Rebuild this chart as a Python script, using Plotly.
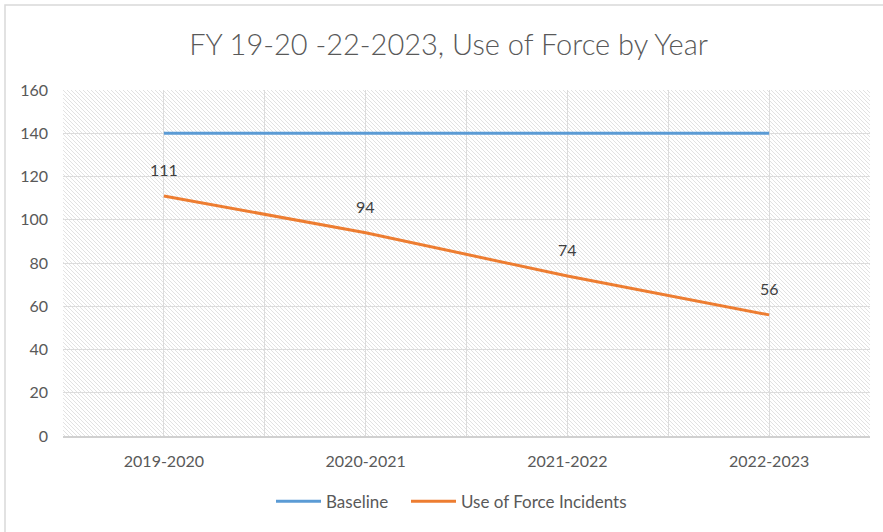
import base64
import plotly.graph_objects as go

categories = ["2019-2020", "2020-2021", "2021-2022", "2022-2023"]
baseline = [140, 140, 140, 140]
incidents = [111, 94, 74, 56]
y_ticks = [0, 20, 40, 60, 80, 100, 120, 140, 160]

xpos = list(range(len(categories)))
FONT = "Lato"
GRAY = "#595959"

W, H = 807, 346
svg = f'''<svg xmlns="http://www.w3.org/2000/svg" width="{W}" height="{H}">
<defs><pattern id="p" width="4" height="4" patternUnits="userSpaceOnUse">
<rect width="4" height="4" fill="#ffffff"/>
<path d="M-1,-1 L5,5 M3,-1 L5,1 M-1,3 L1,5" stroke="#e2e2e2" stroke-width="1"/>
</pattern></defs>
<rect width="{W}" height="{H}" fill="url(#p)"/></svg>'''
src = "data:image/svg+xml;base64," + base64.b64encode(svg.encode()).decode()

fig = go.Figure()
fig.add_trace(go.Scatter(x=xpos, y=baseline, mode="lines", name="Baseline",
                         line=dict(color="#5B9BD5", width=3), legend="legend"))
fig.add_trace(go.Scatter(x=xpos, y=incidents, mode="lines", name="Use of Force Incidents",
                         line=dict(color="#ED7D31", width=3), legend="legend2"))

annotations = [dict(x=x, y=v, text=str(v), showarrow=False, yshift=26,
                    font=dict(family=FONT, size=16, color="#404040"))
               for x, v in zip(xpos, incidents)]

leg_common = dict(orientation="h", xanchor="left", y=-0.19, yanchor="middle",
                  font=dict(family=FONT, size=17, color=GRAY), itemwidth=45,
                  bgcolor="rgba(0,0,0,0)")

fig.update_layout(
    width=883, height=532,
    margin=dict(l=63, r=13, t=90, b=96),
    paper_bgcolor="white", plot_bgcolor="white",
    title=dict(text="FY 19-20 -22-2023, Use of Force by Year", x=0.508, xanchor="center",
               y=0.915, yanchor="middle",
               font=dict(family=FONT, size=29, color=GRAY, weight=300)),
    font=dict(family=FONT, size=16, color=GRAY),
    showlegend=True,
    legend=dict(x=(271 - 63) / 807, **leg_common),
    legend2=dict(x=(406 - 63) / 807, **leg_common),
    annotations=annotations,
    images=[dict(source=src, xref="paper", yref="paper", x=0, y=1, sizex=1, sizey=1,
                 xanchor="left", yanchor="top", sizing="stretch", layer="below")],
    shapes=[dict(type="rect", xref="paper", yref="paper",
                 x0=-58/807, x1=1.03, y0=-0.32, y1=(436-5)/346,
                 line=dict(color="#d9d9d9", width=1.5), fillcolor="rgba(0,0,0,0)",
                 layer="below")],
)
fig.update_xaxes(range=[-0.5, 3.5], tickvals=xpos, ticktext=categories,
                 showgrid=True, gridcolor="#dcdcdc", gridwidth=1,
                 minor=dict(tickvals=[-0.5, 0.5, 1.5, 2.5, 3.5], showgrid=True,
                            gridcolor="#dcdcdc", gridwidth=1),
                 showline=True, linecolor="#d0d0d0", linewidth=1.5,
                 tickfont=dict(size=16),
                 ticks="", ticklabelstandoff=10, zeroline=False, fixedrange=True)
fig.update_yaxes(range=[0, 160], tickvals=y_ticks, showgrid=True, gridcolor="#dcdcdc",
                 gridwidth=1, zeroline=False, ticks="", ticklabelstandoff=14,
                 tickfont=dict(size=16), fixedrange=True)

fig.write_html("out.html")
